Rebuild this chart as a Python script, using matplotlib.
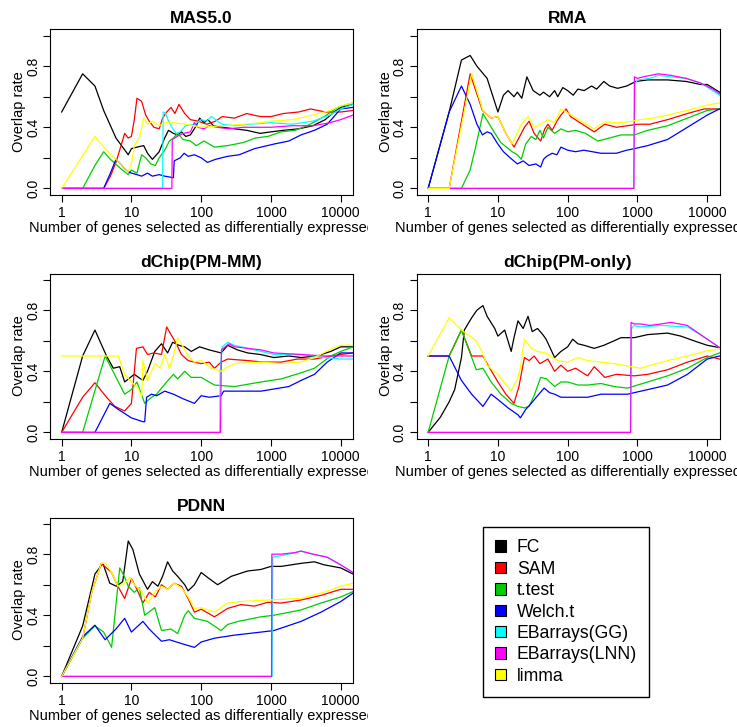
import matplotlib
matplotlib.use("Agg")
import matplotlib.pyplot as plt
from matplotlib.patches import Patch
from matplotlib.transforms import Bbox, TransformedBbox

plt.rcParams['font.family'] = ['Liberation Sans', 'DejaVu Sans']

methods = ["FC", "SAM", "t.test", "Welch.t", "EBarrays(GG)", "EBarrays(LNN)", "limma"]
colors = ["black", "red", "#00CD00", "blue", "cyan", "magenta", "yellow"]
xticks = [1, 10, 100, 1000, 10000]
xticklabels = ["1", "10", "100", "1000", "10000"]
yticks = [0.0, 0.2, 0.4, 0.6, 0.8, 1.0]
yticklabels = ["0.0", "", "0.4", "", "0.8", ""]

# (number of genes, overlap rate)
mas5_fc = [(1,.50),(2,.75),(3,.67),(4,.51),(6,.33),(9,.22),(10,.26),(12,.27),(15,.28),(17,.23),(20,.19),(25,.24),(30,.33),(34,.38),(40,.36),(46,.35),(52,.37),(60,.34),(70,.35),(85,.41),(95,.46),(110,.43),(125,.45),(150,.41),(200,.40),(300,.39),(450,.38),(700,.36),(1000,.37),(1500,.38),(2500,.39),(4000,.41),(6000,.45),(8000,.50),(10000,.53),(15000,.55)]
mas5_sam = [(1,0),(4,0),(5,.08),(6,.17),(7,.27),(8,.36),(9,.33),(10,.34),(11,.45),(12,.59),(14,.57),(16,.48),(18,.44),(21,.40),(25,.39),(28,.46),(32,.50),(37,.53),(42,.49),(48,.55),(58,.49),(70,.45),(90,.44),(120,.42),(160,.44),(200,.47),(300,.46),(450,.49),(700,.47),(1000,.47),(1500,.49),(2500,.50),(3700,.52),(6000,.50),(10000,.50),(15000,.51)]
mas5_tt = [(1,0),(2,0),(3,.15),(4,.24),(5,.19),(7,.13),(9,.09),(10,.12),(12,.10),(14,.22),(16,.20),(19,.16),(22,.15),(25,.20),(30,.25),(35,.31),(40,.33),(46,.36),(55,.32),(70,.31),(85,.28),(110,.31),(155,.27),(240,.28),(400,.30),(600,.33),(900,.34),(1400,.37),(2200,.38),(3300,.41),(5800,.47),(9000,.53),(15000,.56)]
mas5_welch = [(1,0),(4,0),(5,.10),(6,.19),(7,.16),(8,.13),(9,.11),(10,.10),(12,.09),(14,.08),(17,.10),(20,.08),(25,.09),(30,.08),(40,.07),(41,.18),(50,.20),(57,.23),(65,.21),(80,.22),(100,.20),(123,.17),(160,.19),(240,.21),(350,.22),(580,.26),(1100,.29),(1800,.31),(2700,.35),(4200,.38),(6400,.42),(10000,.52),(15000,.53)]
mas5_ebgg = [(1,0),(28,0),(28.5,.50),(31,.49),(34,.44),(38,.40),(44,.36),(50,.37),(60,.41),(80,.42),(100,.45),(120,.44),(140,.47),(160,.45),(200,.42),(300,.41),(500,.42),(1000,.43),(2000,.42),(4000,.44),(7000,.48),(10000,.52),(15000,.55)]
mas5_eblnn = [(1,0),(38,0),(38.5,.32),(45,.34),(55,.36),(70,.37),(80,.43),(90,.40),(110,.39),(130,.41),(170,.40),(250,.39),(400,.40),(700,.40),(1000,.40),(2000,.41),(4000,.41),(7000,.43),(10000,.45),(15000,.48)]
mas5_limma = [(1,0),(3,.34),(4,.27),(6,.19),(9,.11),(10,.16),(11,.28),(13,.33),(15,.46),(17,.42),(20,.44),(25,.41),(30,.43),(40,.43),(60,.42),(100,.40),(200,.41),(400,.42),(700,.43),(1000,.44),(2000,.45),(4000,.48),(7000,.51),(10000,.54),(15000,.56)]

rma_fc = [(1,0),(2,.50),(3,.84),(4,.87),(5,.80),(7,.72),(10,.50),(12,.61),(14,.64),(17,.60),(19,.63),(22,.59),(26,.73),(32,.64),(40,.61),(45,.63),(55,.60),(65,.64),(72,.60),(85,.66),(100,.64),(120,.61),(140,.65),(172,.64),(220,.67),(260,.65),(330,.70),(400,.67),(520,.655),(700,.67),(950,.70),(1400,.71),(2700,.71),(5000,.70),(8000,.68),(10000,.68),(15000,.63)]
rma_sam = [(1,0),(2,0),(4,.75),(6,.51),(8,.46),(10,.47),(13,.36),(17,.27),(20,.33),(24,.40),(28,.44),(33,.36),(41,.31),(47,.39),(52,.42),(60,.38),(70,.44),(80,.48),(95,.52),(110,.47),(150,.43),(240,.37),(340,.42),(500,.40),(720,.41),(1000,.42),(1500,.42),(2700,.45),(5200,.49),(9000,.52),(15000,.52)]
rma_tt = [(1,0),(3,0),(4,.12),(4.9,.29),(6.1,.49),(8,.40),(11,.30),(16,.24),(19,.22),(21.6,.19),(25,.29),(30,.34),(35,.32),(40,.38),(45,.33),(52,.40),(65,.36),(80,.39),(100,.37),(130,.38),(180,.36),(270,.31),(400,.33),(580,.35),(900,.35),(1400,.38),(2700,.41),(5200,.46),(10000,.51),(15000,.52)]
rma_welch = [(1,0),(2,.5),(3,.67),(4,.55),(5,.42),(6,.35),(7,.37),(8,.36),(10,.29),(12,.24),(15,.20),(19,.16),(23,.18),(28,.15),(35,.16),(41,.14),(45,.19),(50,.21),(60,.23),(70,.22),(80,.27),(100,.25),(130,.24),(170,.25),(300,.23),(500,.23),(700,.25),(900,.26),(1400,.28),(2700,.32),(5200,.40),(10000,.48),(15000,.52)]
rma_ebgg = [(1,0),(880,0),(890,.19),(920,.68),(1000,.71),(1500,.72),(2000,.74),(3000,.73),(5000,.72),(8000,.69),(12000,.64),(15000,.61)]
rma_eblnn = [(1,0),(890,0),(905,.73),(1000,.72),(1200,.73),(2000,.75),(3000,.74),(5000,.72),(8000,.69),(12000,.65),(15000,.62)]
rma_limma = [(1,0),(2,0),(4.2,.75),(6.1,.51),(8,.46),(10,.47),(13,.36),(16,.29),(21.6,.42),(27,.47),(33,.40),(41,.42),(52,.45),(65,.43),(80,.52),(95,.50),(123,.47),(170,.43),(240,.39),(340,.435),(500,.43),(720,.435),(1100,.45),(1700,.46),(2700,.48),(5200,.51),(10000,.545),(15000,.56)]

pmmm_fc = [(1,0),(2,.50),(3,.67),(4.4,.50),(5.5,.42),(6.8,.43),(8,.33),(11,.38),(14.6,.34),(17,.40),(21.6,.53),(27,.58),(33,.52),(39,.59),(48,.57),(58,.56),(72,.53),(95,.56),(130,.54),(193,.52),(240,.57),(330,.54),(465,.52),(700,.51),(1100,.49),(1800,.50),(2700,.49),(4500,.50),(7200,.53),(10000,.56),(15000,.56)]
pmmm_sam = [(1,0),(2,.23),(3,.325),(4.4,.23),(5.8,.17),(8,.14),(10,.19),(11.8,.55),(14.6,.56),(17,.51),(21,.52),(27,.51),(32,.69),(37,.64),(44,.58),(52,.51),(65,.47),(80,.46),(100,.45),(130,.46),(155,.42),(193,.46),(240,.48),(465,.47),(800,.46),(1400,.46),(2400,.48),(4200,.48),(7200,.50),(10000,.51),(15000,.52)]
pmmm_tt = [(1,0),(2,0),(4.2,.50),(8,.25),(10,.28),(12,.33),(15.5,.19),(19.4,.23),(23,.25),(27,.29),(32,.33),(40,.38),(46,.35),(58,.40),(72,.36),(100,.36),(155,.31),(300,.30),(720,.33),(1400,.35),(2700,.39),(4200,.42),(7200,.50),(10000,.53),(15000,.56)]
pmmm_welch = [(1,0),(3,0),(4.9,.19),(6.5,.15),(10,.095),(14.6,.07),(15.5,.07),(16.5,.23),(19.4,.25),(23,.24),(30,.27),(40,.25),(55,.22),(80,.19),(100,.24),(130,.23),(193,.24),(210,.27),(350,.27),(720,.27),(1800,.30),(2700,.34),(4200,.38),(6400,.46),(10000,.52),(15000,.52)]
pmmm_ebgg = [(1,0),(185,0),(187,.40),(200,.56),(240,.59),(300,.57),(465,.55),(720,.53),(1100,.51),(2700,.51),(5800,.49),(10000,.48),(15000,.48)]
pmmm_eblnn = [(1,0),(189,0),(195,.54),(250,.58),(300,.56),(465,.55),(720,.54),(1100,.52),(2700,.51),(5800,.50),(10000,.50),(15000,.50)]
pmmm_limma = [(1,.5),(6.5,.5),(8,.38),(10,.33),(12.5,.29),(14,.23),(14.6,.47),(17,.34),(21.6,.45),(26,.42),(30,.51),(35,.42),(40,.50),(46,.62),(52,.58),(65,.50),(80,.46),(100,.47),(140,.42),(193,.40),(240,.43),(300,.45),(720,.46),(1400,.45),(2700,.46),(4200,.49),(7200,.545),(10000,.57),(15000,.57)]

pmo_fc = [(1,0),(1.5,.10),(2,.20),(2.4,.28),(3,.49),(3.3,.67),(4.2,.75),(5,.80),(6.1,.83),(7,.76),(9,.68),(10,.63),(12.5,.67),(15.5,.53),(17,.62),(19.4,.73),(23,.68),(27,.76),(31,.66),(37,.68),(44,.64),(49,.61),(65,.49),(80,.53),(100,.56),(118,.61),(140,.58),(172,.57),(240,.55),(330,.57),(465,.60),(580,.62),(900,.62),(1400,.64),(2700,.65),(4200,.63),(6400,.60),(10000,.57),(15000,.555)]
pmo_sam = [(1,.5),(2,.5),(3,.67),(4.2,.50),(6.1,.50),(7,.45),(10,.33),(13,.25),(17,.19),(20,.30),(24,.49),(28,.47),(33,.50),(40,.45),(52,.48),(65,.40),(80,.44),(100,.40),(130,.42),(193,.37),(240,.43),(340,.36),(500,.38),(900,.37),(1400,.38),(2700,.41),(5200,.46),(10000,.50),(15000,.48)]
pmo_tt = [(1,0),(2,.5),(3,.67),(4.9,.41),(6.1,.42),(8,.33),(11,.25),(15.5,.19),(19.4,.17),(24,.16),(28,.17),(33,.24),(41,.36),(50,.35),(65,.30),(80,.33),(100,.33),(140,.31),(193,.31),(300,.32),(465,.30),(720,.29),(1400,.33),(2700,.37),(5200,.42),(10000,.49),(15000,.52)]
pmo_welch = [(1,.5),(2,.5),(3,.34),(4.2,.25),(6.1,.17),(8,.25),(10,.215),(14,.16),(19.4,.115),(21,.095),(25,.15),(30,.19),(37,.24),(46,.29),(55,.26),(65,.25),(80,.23),(120,.23),(193,.23),(300,.25),(720,.25),(1400,.28),(2700,.31),(5200,.38),(10000,.48),(15000,.50)]
pmo_ebgg = [(1,0),(790,0),(795,.12),(820,.68),(900,.70),(1100,.69),(2200,.70),(5200,.69),(8000,.64),(15000,.555)]
pmo_eblnn = [(1,0),(800,0),(810,.72),(900,.71),(1100,.71),(1500,.70),(2200,.71),(3000,.72),(5200,.70),(8000,.64),(15000,.556)]
pmo_limma = [(1,.5),(2,.75),(3,.67),(4.9,.60),(6,.52),(7,.44),(10,.38),(15.5,.27),(19,.35),(21,.42),(24,.61),(30,.55),(37,.53),(48,.52),(72,.47),(100,.46),(140,.49),(193,.47),(300,.46),(465,.45),(1100,.42),(2700,.47),(5200,.50),(10000,.535),(15000,.545)]

pdnn_fc = [(1,0),(2,.33),(3,.67),(3.9,.74),(4.9,.61),(6.1,.59),(7.5,.62),(9,.886),(10.5,.83),(13,.67),(17,.57),(20,.62),(24,.59),(28,.655),(33,.75),(39,.69),(46,.655),(58,.60),(65,.56),(80,.60),(100,.68),(130,.64),(172,.60),(270,.655),(465,.69),(720,.70),(1000,.72),(1400,.72),(2700,.74),(4200,.75),(5800,.73),(10000,.71),(15000,.67)]
pdnn_sam = [(1,0),(2,.25),(2.7,.55),(3.7,.74),(5.2,.68),(6.4,.59),(8,.51),(10,.64),(12,.57),(14.6,.48),(18,.55),(22,.52),(27,.60),(33,.57),(41,.61),(52,.59),(65,.51),(80,.42),(100,.44),(155,.39),(240,.445),(370,.47),(580,.46),(900,.485),(1400,.48),(2700,.50),(5200,.53),(10000,.57),(15000,.57)]
pdnn_tt = [(1,0),(2,.25),(3,.33),(4,.29),(5.2,.19),(6.8,.71),(8,.65),(9,.59),(11,.55),(13,.58),(15.5,.40),(21.6,.45),(27,.30),(37,.31),(46,.28),(58,.40),(65,.43),(80,.38),(123,.36),(193,.30),(240,.34),(340,.36),(720,.39),(1100,.40),(2700,.435),(5200,.48),(10000,.52),(15000,.555)]
pdnn_welch = [(1,0),(2,.26),(3,.335),(4.2,.24),(6,.31),(8,.38),(10,.29),(14.6,.36),(18,.31),(22,.27),(27,.23),(35,.24),(52,.215),(80,.19),(100,.225),(155,.25),(300,.27),(720,.29),(1100,.30),(2700,.36),(5200,.42),(10000,.49),(15000,.545)]
pdnn_ebgg = [(1,0),(1040,0),(1060,.78),(1400,.79),(2200,.81),(2700,.82),(4000,.80),(6400,.78),(10000,.73),(15000,.68)]
pdnn_eblnn = [(1,0),(1020,0),(1030,.80),(1400,.80),(2200,.81),(2700,.82),(4000,.80),(6400,.78),(10000,.73),(15000,.68)]
pdnn_limma = [(1,0),(2,.25),(2.7,.55),(3.7,.74),(4.3,.74),(5.2,.68),(6.4,.59),(8,.61),(9.5,.65),(11,.60),(14,.56),(17,.48),(21.6,.55),(27,.59),(33,.57),(41,.61),(52,.58),(65,.52),(80,.445),(100,.45),(155,.42),(240,.48),(370,.49),(900,.50),(2700,.51),(5200,.545),(10000,.59),(15000,.61)]

panels = [
    ("MAS5.0", [mas5_fc, mas5_sam, mas5_tt, mas5_welch, mas5_ebgg, mas5_eblnn, mas5_limma]),
    ("RMA", [rma_fc, rma_sam, rma_tt, rma_welch, rma_ebgg, rma_eblnn, rma_limma]),
    ("dChip(PM-MM)", [pmmm_fc, pmmm_sam, pmmm_tt, pmmm_welch, pmmm_ebgg, pmmm_eblnn, pmmm_limma]),
    ("dChip(PM-only)", [pmo_fc, pmo_sam, pmo_tt, pmo_welch, pmo_ebgg, pmo_eblnn, pmo_limma]),
    ("PDNN", [pdnn_fc, pdnn_sam, pdnn_tt, pdnn_welch, pdnn_ebgg, pdnn_eblnn, pdnn_limma]),
]

W, H = 737, 727
fig = plt.figure(figsize=(W / 100, H / 100), dpi=100)

col_left = [50, 416.5]
row_top = [29.5, 273.5, 517.5]
bw, bh = 303, 165

for i, (title, series) in enumerate(panels):
    r, c = divmod(i, 2)
    l, t = col_left[c], row_top[r]
    ax = fig.add_axes([l / W, 1 - (t + bh) / H, bw / W, bh / H])
    for pts, col in zip(series, colors):
        xs = [p[0] for p in pts]
        ys = [p[1] for p in pts]
        ax.plot(xs, ys, color=col, lw=0.9)
    ax.set_xscale("log")
    ax.set_xlim(10 ** -0.167, 10 ** 4.176)
    ax.set_ylim(-0.04, 1.04)
    ax.set_xticks(xticks)
    ax.set_xticklabels(xticklabels)
    ax.minorticks_off()
    ax.set_yticks(yticks)
    ax.set_yticklabels(yticklabels, rotation=90, va="center")
    ax.tick_params(length=5, width=0.8, labelsize=10, pad=2)
    ax.tick_params(axis="x", pad=3)
    for s in ax.spines.values():
        s.set_linewidth(0.8)
    ax.set_title(title, fontsize=12.5, fontweight="bold", pad=5)
    ax.set_ylabel("Overlap rate", fontsize=10.5, labelpad=0)
    ax.set_xlabel("Number of genes selected as differentially expressed", fontsize=10.5, labelpad=1)
    # the reference cuts the x label at the edge of each panel's region
    x0 = 0 if c == 0 else 368 / W
    x1 = 368 / W if c == 0 else 1
    ax.xaxis.label.set_clip_box(TransformedBbox(Bbox([[x0, 0], [x1, 1]]), fig.transFigure))
    ax.xaxis.label.set_clip_on(True)

handles = [Patch(facecolor=col, edgecolor="black", linewidth=0.8) for col in colors]
fig.legend(handles, methods, loc="upper left", bbox_to_anchor=(483 / W, 1 - 527 / H),
           borderaxespad=0, fontsize=12.7, frameon=True, fancybox=False,
           edgecolor="black", framealpha=1, handlelength=0.62, handleheight=0.62,
           handletextpad=0.6, labelspacing=0.25, borderpad=0.7)

fig.savefig("out.png", dpi=100, facecolor="white")
